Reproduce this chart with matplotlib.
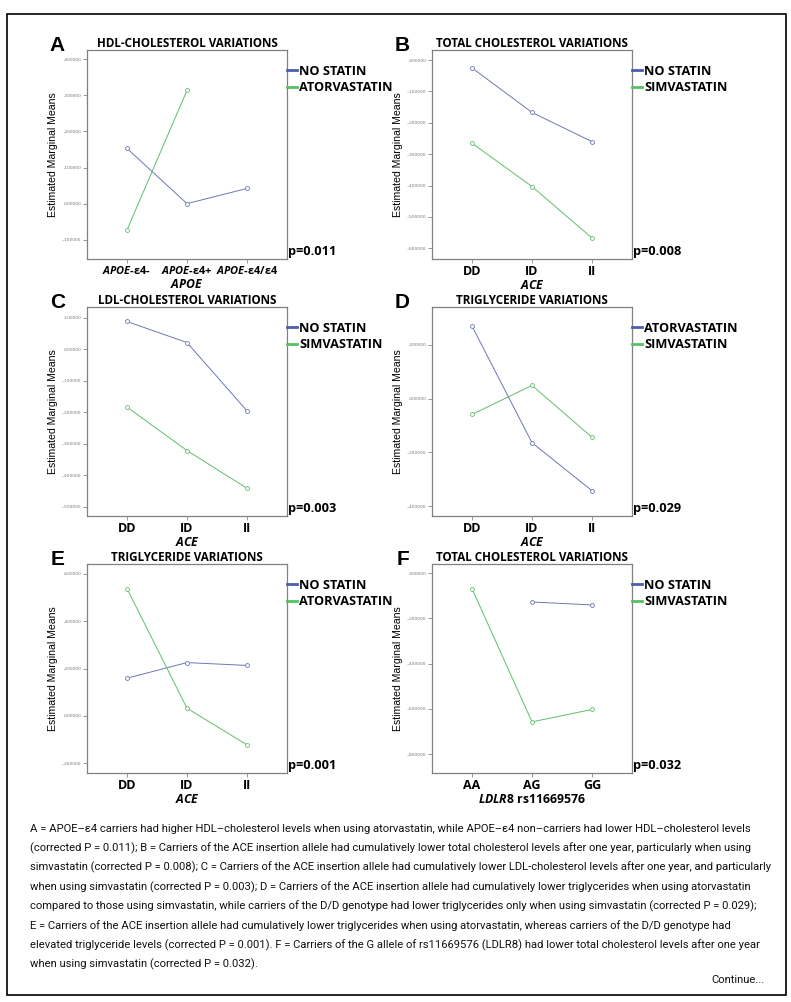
import matplotlib
matplotlib.use('Agg')
import matplotlib.pyplot as plt
from matplotlib.lines import Line2D
from matplotlib.patches import Rectangle
import numpy as np

plt.rcParams['mathtext.fontset'] = 'custom'
plt.rcParams['mathtext.it'] = 'Open Sans:italic:bold'
plt.rcParams['mathtext.rm'] = 'Open Sans:bold'

# categories
apoe_cats = [r'$\mathit{APOE}$-ε4-', r'$\mathit{APOE}$-ε4+', r'$\mathit{APOE}$-ε4/ε4']
ace_cats = ['DD', 'ID', 'II']
ldlr_cats = ['AA', 'AG', 'GG']

# estimated marginal means
hdl_no_statin = [0.153, 0.000, 0.042]
hdl_atorva = [-0.073, 0.314, np.nan]
tc_no_statin = [-0.025, -0.167, -0.260]
tc_simva = [-0.265, -0.403, -0.567]
ldl_no_statin = [0.088, 0.021, -0.196]
ldl_simva = [-0.184, -0.322, -0.442]
tg_atorva_d = [0.269, -0.164, -0.342]
tg_simva_d = [-0.059, 0.049, -0.144]
tg_no_statin_e = [0.159, 0.225, 0.213]
tg_atorva_e = [0.538, 0.032, -0.123]
tc_no_statin_f = [np.nan, -0.128, -0.141]
tc_simva_f = [-0.069, -0.658, -0.603]

caption = [
    "A = APOE–ε4 carriers had higher HDL–cholesterol levels when using atorvastatin, while APOE–ε4 non–carriers had lower HDL–cholesterol levels",
    "(corrected P = 0.011); B = Carriers of the ACE insertion allele had cumulatively lower total cholesterol levels after one year, particularly when using",
    "simvastatin (corrected P = 0.008); C = Carriers of the ACE insertion allele had cumulatively lower LDL-cholesterol levels after one year, and particularly",
    "when using simvastatin (corrected P = 0.003); D = Carriers of the ACE insertion allele had cumulatively lower triglycerides when using atorvastatin",
    "compared to those using simvastatin, while carriers of the D/D genotype had lower triglycerides only when using simvastatin (corrected P = 0.029);",
    "E = Carriers of the ACE insertion allele had cumulatively lower triglycerides when using atorvastatin, whereas carriers of the D/D genotype had",
    "elevated triglyceride levels (corrected P = 0.001). F = Carriers of the G allele of rs11669576 (LDLR8) had lower total cholesterol levels after one year",
    "when using simvastatin (corrected P = 0.032).",
]

BLUE = '#6b78b6'
GREEN = '#5fbf6c'
BLUE_LEG = '#4a5eab'
GREEN_LEG = '#52c35f'

W, H = 791, 1002
fig = plt.figure(figsize=(W / 100, H / 100), dpi=100)
fig.add_artist(Rectangle((7 / W, 1 - 995 / H), 779 / W, 981 / H, transform=fig.transFigure,
                         fill=False, ec='black', lw=1.2))


def spss_fmt(v):
    s = '{:.6f}'.format(v).replace('.', ',')
    s = s.replace('0,', ',', 1) if s.startswith('0,') or s.startswith('-0,') else s
    return s


def panel(left, top, letter, title, cats, xlab, s1, s2, names, ticks, ylim, pval):
    ax = fig.add_axes([left / W, 1 - (top + 209) / H, 200 / W, 209 / H])
    x = np.arange(len(cats))
    ax.plot(x, s1, color=BLUE, lw=0.7, marker='o', ms=2.8, mfc='white', mec=BLUE, mew=0.6)
    ax.plot(x, s2, color=GREEN, lw=0.7, marker='o', ms=2.8, mfc='white', mec=GREEN, mew=0.6)
    ax.set_xlim(-0.667, 2.667)
    ax.set_ylim(*ylim)
    ax.set_xticks(x)
    ax.set_xticklabels(cats, fontfamily='Open Sans', fontweight='bold',
                       fontsize=7.9 if xlab == 'APOE' else 9)
    ax.set_yticks(ticks)
    ax.set_yticklabels([spss_fmt(t) for t in ticks])
    ax.tick_params(axis='y', length=3, width=0.6, color='#888888', labelsize=3.2,
                   labelcolor='#777777', pad=1)
    ax.tick_params(axis='x', length=3, width=0.6, color='#888888', pad=1.5)
    for sp in ax.spines.values():
        sp.set_color('#808080')
        sp.set_linewidth(0.9)
    ax.set_title(title, fontfamily='Open Sans', fontweight='bold', fontsize=8.4, pad=2)
    ax.set_ylabel('Estimated Marginal Means', fontfamily='Liberation Sans', fontsize=7.6)
    ax.yaxis.set_label_coords(-29 / 200, 0.5)
    ax.set_xlabel(r'$\mathit{' + xlab.split(' ')[0] + '}$' + (' ' + xlab.split(' ')[1] if ' ' in xlab else ''),
                  fontfamily='Open Sans', fontweight='bold', fontsize=8.8, labelpad=0.5)
    handles = [Line2D([], [], color=BLUE_LEG, lw=2), Line2D([], [], color=GREEN_LEG, lw=2)]
    ax.legend(handles, names, loc='upper left', bbox_to_anchor=(1.0, 0.93), frameon=False,
              handlelength=0.75, handletextpad=0.2, labelspacing=0.3, borderaxespad=0,
              borderpad=0, prop={'family': 'Open Sans', 'weight': 'bold', 'size': 9.2})
    ax.text(1.005, 0.036, pval, transform=ax.transAxes, ha='left', va='center',
            fontfamily='Open Sans', fontweight='bold', fontsize=9.2)
    fig.text((left - 29.5) / W, 1 - (top - 4.5) / H, letter, ha='center', va='center',
             fontfamily='Liberation Sans', fontweight='bold', fontsize=15)
    return ax


panel(87, 50, 'A', 'HDL-CHOLESTEROL VARIATIONS', apoe_cats, 'APOE',
      hdl_no_statin, hdl_atorva, ['NO STATIN', 'ATORVASTATIN'],
      [0.4, 0.3, 0.2, 0.1, 0.0, -0.1], (-0.1535, 0.4258), 'p=0.011')
panel(432, 50, 'B', 'TOTAL CHOLESTEROL VARIATIONS', ace_cats, 'ACE',
      tc_no_statin, tc_simva, ['NO STATIN', 'SIMVASTATIN'],
      [0.0, -0.1, -0.2, -0.3, -0.4, -0.5, -0.6], (-0.634, 0.032), 'p=0.008')
panel(87, 307, 'C', 'LDL-CHOLESTEROL VARIATIONS', ace_cats, 'ACE',
      ldl_no_statin, ldl_simva, ['NO STATIN', 'SIMVASTATIN'],
      [0.1, 0.0, -0.1, -0.2, -0.3, -0.4, -0.5], (-0.530, 0.134), 'p=0.003')
panel(432, 307, 'D', 'TRIGLYCERIDE VARIATIONS', ace_cats, 'ACE',
      tg_atorva_d, tg_simva_d, ['ATORVASTATIN', 'SIMVASTATIN'],
      [0.2, 0.0, -0.2, -0.4], (-0.436, 0.340), 'p=0.029')
panel(87, 564, 'E', 'TRIGLYCERIDE VARIATIONS', ace_cats, 'ACE',
      tg_no_statin_e, tg_atorva_e, ['NO STATIN', 'ATORVASTATIN'],
      [0.6, 0.4, 0.2, 0.0, -0.2], (-0.242, 0.642), 'p=0.001')
panel(432, 564, 'F', 'TOTAL CHOLESTEROL VARIATIONS', ldlr_cats, 'LDLR8 rs11669576',
      tc_no_statin_f, tc_simva_f, ['NO STATIN', 'SIMVASTATIN'],
      [0.0, -0.2, -0.4, -0.6, -0.8], (-0.884, 0.040), 'p=0.032')

# caption, sized so the first line spans the same width as in the figure
cap_fam = ['Liberation Sans Narrow', 'Roboto']
texts = []
for i, line in enumerate(caption):
    t = fig.text(30 / W, 1 - (829 + i * 19.3) / H, line, ha='left', va='center',
                 fontfamily=cap_fam, fontsize=9, color='#111111')
    texts.append(t)
fig.canvas.draw()
r = fig.canvas.get_renderer()
scale = 727 / texts[0].get_window_extent(r).width
for t in texts:
    t.set_fontsize(9 * scale)
fig.text(765 / W, 1 - 980 / H, 'Continue...', ha='right', va='center',
         fontfamily=cap_fam, fontsize=9 * scale, color='#111111')

fig.savefig('out.png', dpi=100)
